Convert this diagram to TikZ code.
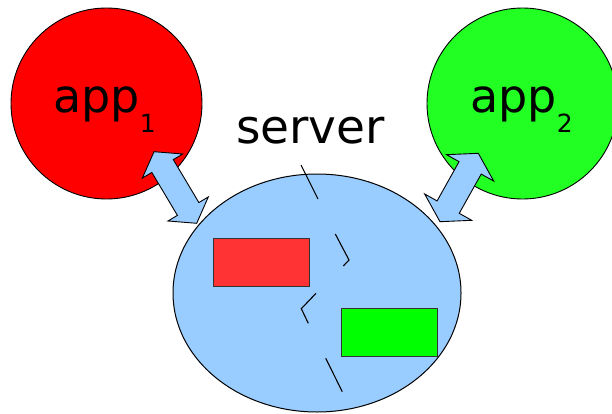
\documentclass[tikz,border=0pt]{standalone}
\usepackage{fontspec}
\setmainfont{DejaVu Sans}
\usetikzlibrary{calc,shapes.geometric}

\definecolor{appred}{RGB}{255,0,0}
\definecolor{appgreen}{RGB}{34,255,34}
\definecolor{serverblue}{RGB}{153,204,255}
\definecolor{boxred}{RGB}{255,51,51}
\definecolor{boxgreen}{RGB}{0,255,0}

\tikzset{
  appcircle/.style={circle, draw=black, line width=0.9pt, minimum size=191pt, inner sep=0pt},
  serverbody/.style={ellipse, draw=black, line width=1pt, fill=serverblue, minimum width=288pt, minimum height=238pt, inner sep=0pt},
  databox/.style={draw=black!80, line width=0.8pt, minimum width=96pt, minimum height=48pt, inner sep=0pt},
  arrowbody/.style={draw=black, line width=0.9pt, fill=serverblue, line join=miter},
  bigtext/.style={inner sep=0pt, anchor=base west, font=\fontsize{46}{50}\selectfont},
  breakline/.style={draw=black, line width=1.1pt},
}

% two-headed block arrow between #1 and #2:
% #3 head length, #4 head half width, #5 shaft half width
\newcommand\twowayarrow[5]{%
  \path ($(#1)!#3!(#2)$) coordinate (h1) ($(#2)!#3!(#1)$) coordinate (h2);
  \draw[arrowbody] (#1) -- ($(h1)!#4!90:(#2)$) -- ($(h1)!#5!90:(#2)$)
    -- ($(h2)!#5!-90:(#1)$) -- ($(h2)!#4!-90:(#1)$) -- (#2)
    -- ($(h2)!#4!90:(#1)$) -- ($(h2)!#5!90:(#1)$)
    -- ($(h1)!#5!-90:(#2)$) -- ($(h1)!#4!-90:(#2)$) -- cycle;
}

\newcommand\subidx[1]{\raisebox{-20pt}{\fontsize{25}{25}\selectfont #1}}

\begin{document}
\begin{tikzpicture}[x=1pt, y=-1pt]
  \useasboundingbox (0,0) rectangle (612,414);

  % applications
  \node[appcircle, fill=appred]   (app1) at (106.5,103.5) {};
  \node[appcircle, fill=appgreen] (app2) at (522.5,103.5) {};
  \node[bigtext] (app1label) at (53,113) {app\subidx{1}};
  \node[bigtext] (app2label) at (470,113) {app\subidx{2}};

  % server with its two stored blocks
  \node[serverbody] (server) at (317,293) {};
  \node[bigtext, font=\fontsize{47}{50}\selectfont] (serverlabel) at (236,143) {server};
  \node[databox, fill=boxred]   (blockA) at (261,262) {};
  \node[databox, fill=boxgreen] (blockB) at (389,332.5) {};

  % broken boundary line through the server
  \draw[breakline] (301,165) -- (318,199);
  \draw[breakline] (335.3,234) -- (349,260) -- (343.3,266);
  \draw[breakline] (316,293.3) -- (301.3,308.7) -- (308.3,323.3);
  \draw[breakline] (325.7,358.3) -- (342.3,391.7);

  % links between applications and server
  \coordinate (l1) at (154,151.7);
  \coordinate (l2) at (196.7,223.3);
  \coordinate (r1) at (478.3,153.3);
  \coordinate (r2) at (440,221.7);
  \twowayarrow{l1}{l2}{16.7pt}{23.5pt}{12.5pt}
  \twowayarrow{r1}{r2}{16.7pt}{27pt}{12.7pt}
\end{tikzpicture}
\end{document}
